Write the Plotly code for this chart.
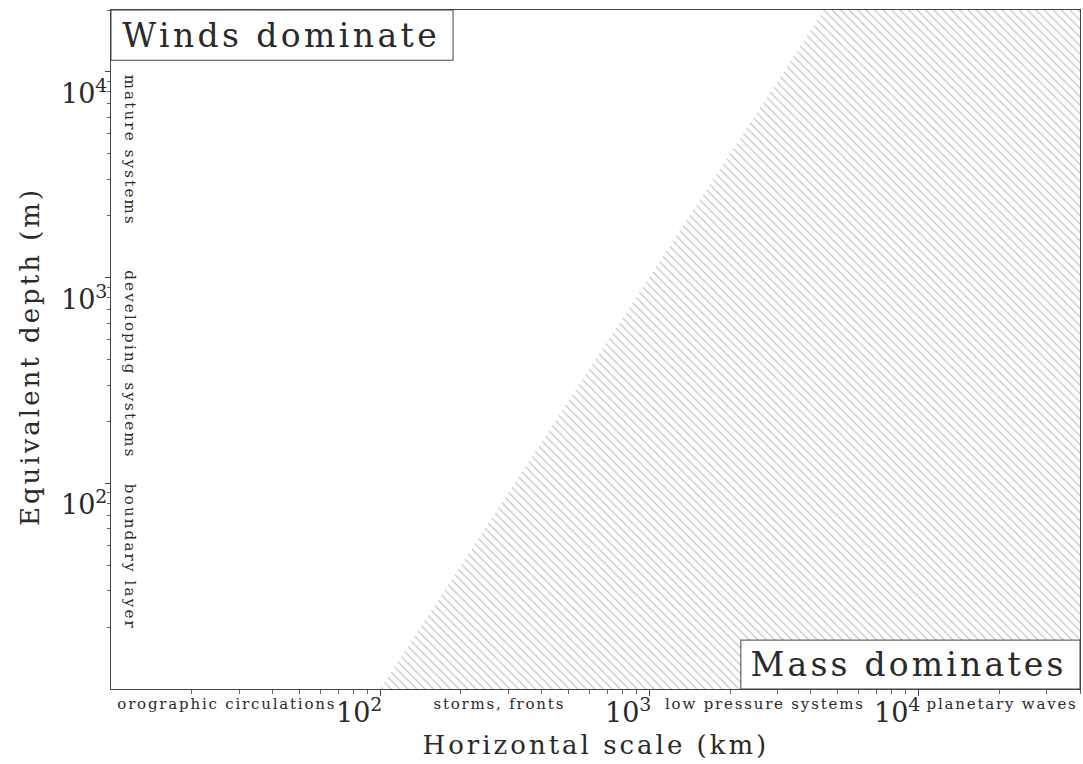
import json
import math
import plotly.graph_objects as go

# Horizontal scale (km) and equivalent depth (m) along the Rossby-radius boundary
boundary_scale_km = [100, 4470]
boundary_depth_m = [10, 20000]

# Axis extents
scale_limits_km = [10, 40000]
depth_limits_m = [10, 20000]

# Decade ticks
scale_decades = [100, 1000, 10000]
scale_exponents = ["2", "3", "4"]
depth_decades = [100, 1000, 10000]
depth_exponents = ["2", "3", "4"]

# Phenomena along each axis
scale_regimes = ["orographic circulations", "storms, fronts", "low pressure systems", "planetary waves"]
scale_regime_km = [27, 278, 2690, 20600]
depth_regimes = ["mature systems", "developing systems", "boundary layer"]
depth_regime_m = [4170, 380, 43.7]

FONT = "DejaVu Serif"
INK = "#2a2a2a"

fig = go.Figure()

# Mass-dominated region: right of the boundary line
poly_x = boundary_scale_km + [scale_limits_km[1], scale_limits_km[1], boundary_scale_km[0]]
poly_y = boundary_depth_m + [depth_limits_m[1], depth_limits_m[0], boundary_depth_m[0]]
fig.add_trace(go.Scatter(
    x=poly_x, y=poly_y, mode="lines", fill="toself",
    line=dict(width=0, color="rgba(0,0,0,0)"),
    fillcolor="white",
    fillpattern=dict(shape="\\", size=6, solidity=0.18, fgcolor="#7d7272", bgcolor="white"),
    hoverinfo="skip", showlegend=False,
))


def minor_vals(lo, hi):
    vals = []
    e = int(math.floor(math.log10(lo)))
    while 10 ** e <= hi:
        for m in range(2, 10):
            v = m * 10 ** e
            if lo <= v <= hi:
                vals.append(v)
        e += 1
    return vals


fig.update_xaxes(
    type="log", range=[math.log10(v) for v in scale_limits_km],
    showgrid=False, zeroline=False, showline=True, linecolor="#444", linewidth=1, mirror=True,
    ticks="outside", tickvals=scale_decades, ticklen=6, tickcolor="#444", showticklabels=False,
    minor=dict(tickvals=minor_vals(*scale_limits_km), ticks="outside", ticklen=4, tickcolor="#666"),
)
fig.update_yaxes(
    type="log", range=[math.log10(v) for v in depth_limits_m],
    showgrid=False, zeroline=False, showline=True, linecolor="#444", linewidth=1, mirror=True,
    ticks="outside", tickvals=depth_decades, ticklen=5, tickcolor="#444", showticklabels=False,
    minor=dict(tickvals=minor_vals(*depth_limits_m), ticks="outside", ticklen=3, tickcolor="#666"),
)

ann = []
spacing = []  # letter spacing (px) per annotation


def add(a, ls=0):
    ann.append(a)
    spacing.append(ls)


# Decade labels on the horizontal axis
for v, e in zip(scale_decades, scale_exponents):
    add(dict(x=math.log10(v), xref="x", y=0, yref="paper", xanchor="right", yanchor="top",
             xshift=4, yshift=-2, showarrow=False,
             text=f"10<sup>{e}</sup>", font=dict(family=FONT, size=27, color=INK)))
# Decade labels on the vertical axis
for v, e in zip(depth_decades, depth_exponents):
    add(dict(x=0, xref="paper", y=math.log10(v), yref="y", xanchor="right", yanchor="top",
             xshift=-2, yshift=0, showarrow=False,
             text=f"10<sup>{e}</sup>", font=dict(family=FONT, size=27, color=INK)))
# Phenomena labels
for t, v in zip(scale_regimes, scale_regime_km):
    add(dict(x=math.log10(v), xref="x", y=0, yref="paper", xanchor="center", yanchor="top",
             yshift=-4, showarrow=False, text=t,
             font=dict(family=FONT, size=15, color=INK)), 1.8)
for t, v in zip(depth_regimes, depth_regime_m):
    add(dict(x=0, xref="paper", y=math.log10(v), yref="y", xanchor="left", yanchor="middle",
             xshift=8, textangle=90, showarrow=False, text=t,
             font=dict(family=FONT, size=15, color=INK)), 2.2)
# Regime boxes
add(dict(x=0.1754, xref="paper", y=0.963, yref="paper", xanchor="center", yanchor="middle",
         showarrow=False, text="Winds dominate", font=dict(family=FONT, size=33, color=INK)), 3.4)
add(dict(x=0.8225, xref="paper", y=0.036, yref="paper", xanchor="center", yanchor="middle",
         showarrow=False, text="Mass dominates", font=dict(family=FONT, size=33, color=INK)), 3.2)
# Axis titles
add(dict(x=0.5, xref="paper", y=-0.0825, yref="paper", xanchor="center", yanchor="middle",
         showarrow=False, text="Horizontal scale (km)", font=dict(family=FONT, size=26, color=INK)), 3)
add(dict(x=-0.0836, xref="paper", y=0.4904, yref="paper", xanchor="center", yanchor="middle",
         textangle=-90, showarrow=False, text="Equivalent depth (m)",
         font=dict(family=FONT, size=26, color=INK)), 3)

shapes = [
    dict(type="rect", xref="paper", yref="paper", x0=0, x1=0.353, y0=0.926, y1=1,
         line=dict(color="#444", width=1), fillcolor="white", layer="above"),
    dict(type="rect", xref="paper", yref="paper", x0=0.650, x1=1, y0=0, y1=0.072,
         line=dict(color="#444", width=1), fillcolor="white", layer="above"),
]

fig.update_layout(
    width=1083, height=764,
    margin=dict(l=111, r=3, t=10, b=75),
    paper_bgcolor="white", plot_bgcolor="white",
    annotations=ann, shapes=shapes, showlegend=False,
)

# Widen the lettering of the labels
letter_js = """
var gd = document.getElementById('{plot_id}');
var sp = %s;
gd.querySelectorAll('g.annotation').forEach(function (g) {
  var i = +g.getAttribute('data-index');
  var t = g.querySelector('text.annotation-text');
  if (t && sp[i]) { t.style.letterSpacing = sp[i] + 'px'; }
});
""" % json.dumps(spacing)

fig.write_html("out.html", post_script=letter_js)
